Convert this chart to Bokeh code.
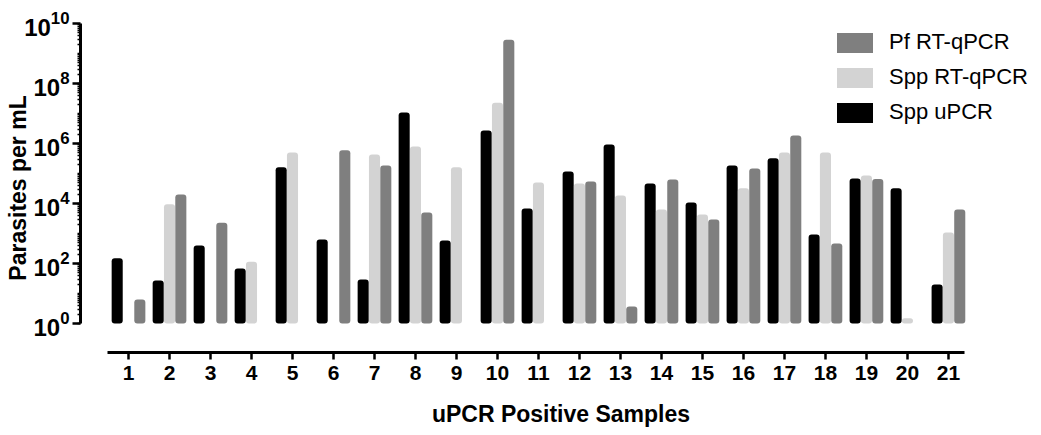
import math
from bokeh.plotting import figure
from bokeh.models import FixedTicker, Legend, LegendItem, ColumnDataSource, Range1d
from bokeh.transform import dodge
from bokeh.embed import file_html
from bokeh.resources import INLINE

nan = float("nan")

samples = list(range(1, 22))
spp_upcr = [150, 27, 400, 68, 1.6e5, 630, 29, 1.07e7, 580, 2.7e6, 6800,
            1.17e5, 9.3e5, 4.6e4, 1.07e4, 1.85e5, 3.2e5, 930, 6.8e4, 3.2e4, 20]
spp_rtqpcr = [nan, 9500, nan, 115, 5.0e5, nan, 4.3e5, 8.0e5, 1.6e5, 2.3e7, 5.0e4,
              4.6e4, 1.85e4, 6.3e3, 4.3e3, 3.2e4, 5.0e5, 5.0e5, 8.5e4, 1.5, 1070]
pf_rtqpcr = [6.3, 2.0e4, 2300, nan, nan, 5.9e5, 1.85e5, 5000, nan, 2.9e9, nan,
             5.4e4, 3.7, 6.3e4, 2.9e3, 1.47e5, 1.85e6, 460, 6.6e4, nan, 6.3e3]
series_labels = ["Spp uPCR", "Spp RT-qPCR", "Pf RT-qPCR"]
series_colors = ["#000000", "#d3d3d3", "#7f7f7f"]
y_major = [1e0, 1e2, 1e4, 1e6, 1e8, 1e10]
y_minor = [k * 10 ** d for d in range(0, 10) for k in range(1, 10)]
x_title = "uPCR Positive Samples"
y_title = "Parasites per mL"

FONT = "Liberation Sans"

src = ColumnDataSource(dict(x=samples, upcr=spp_upcr, rt=spp_rtqpcr, pf=pf_rtqpcr))

p = figure(width=1041, height=435, y_axis_type="log",
           x_range=Range1d(-0.171, 23.27), y_range=Range1d(10 ** -0.967, 1e10),
           output_backend="svg", toolbar_location=None,
           min_border_left=80, min_border_top=23, min_border_right=0, min_border_bottom=83)

off = 0.276
bw = 0.27
renderers = []
for col, shift, color in zip(["upcr", "rt", "pf"], [-off, 0, off], series_colors):
    r = p.vbar(x=dodge("x", shift), top=col, bottom=1, width=bw, source=src,
               fill_color=color, line_color=None, border_radius=3)
    renderers.append(r)

legend = Legend(items=[LegendItem(label=series_labels[2], renderers=[renderers[2]]),
                       LegendItem(label=series_labels[1], renderers=[renderers[1]]),
                       LegendItem(label=series_labels[0], renderers=[renderers[0]])],
                location=(752, 227), glyph_width=45, glyph_height=25, label_height=25,
                spacing=9, padding=0, margin=0, border_line_color=None,
                background_fill_alpha=0, label_text_font=FONT,
                label_text_font_size="22px", label_text_color="#000000", label_standoff=12)
p.add_layout(legend)

p.xgrid.visible = False
p.ygrid.visible = False
p.outline_line_color = None

ya = p.yaxis[0]
ya.ticker = FixedTicker(ticks=y_major, minor_ticks=y_minor)
ya.bounds = (1, 1e10)
ya.axis_line_width = 3
ya.major_tick_line_width = 2.5
ya.minor_tick_line_width = 1.5
ya.major_tick_out = 8
ya.major_tick_in = 0
ya.minor_tick_out = 3
ya.minor_tick_in = 0
ya.major_label_text_font = FONT
ya.major_label_text_font_style = "bold"
ya.major_label_text_font_size = "24px"
ya.major_label_text_color = "#000000"
ya.major_label_standoff = 3
ya.axis_label = y_title
ya.axis_label_text_font = FONT
ya.axis_label_text_font_style = "bold"
ya.axis_label_text_font_size = "23px"
ya.axis_label_text_color = "#000000"
ya.axis_label_standoff = -10

xa = p.xaxis[0]
xa.ticker = FixedTicker(ticks=samples)
xa.bounds = (0.49, 21.39)
xa.axis_line_width = 3
xa.major_tick_line_width = 2.5
xa.major_tick_out = 7
xa.major_tick_in = 0
xa.minor_tick_line_color = None
xa.major_label_text_font = FONT
xa.major_label_text_font_style = "bold"
xa.major_label_text_font_size = "21px"
xa.major_label_text_color = "#000000"
xa.major_label_standoff = 6
xa.axis_label = x_title
xa.axis_label_text_font = FONT
xa.axis_label_text_font_style = "bold"
xa.axis_label_text_font_size = "23px"
xa.axis_label_text_color = "#000000"
xa.axis_label_standoff = 18

open("out.html", "w").write(file_html(p, INLINE))
